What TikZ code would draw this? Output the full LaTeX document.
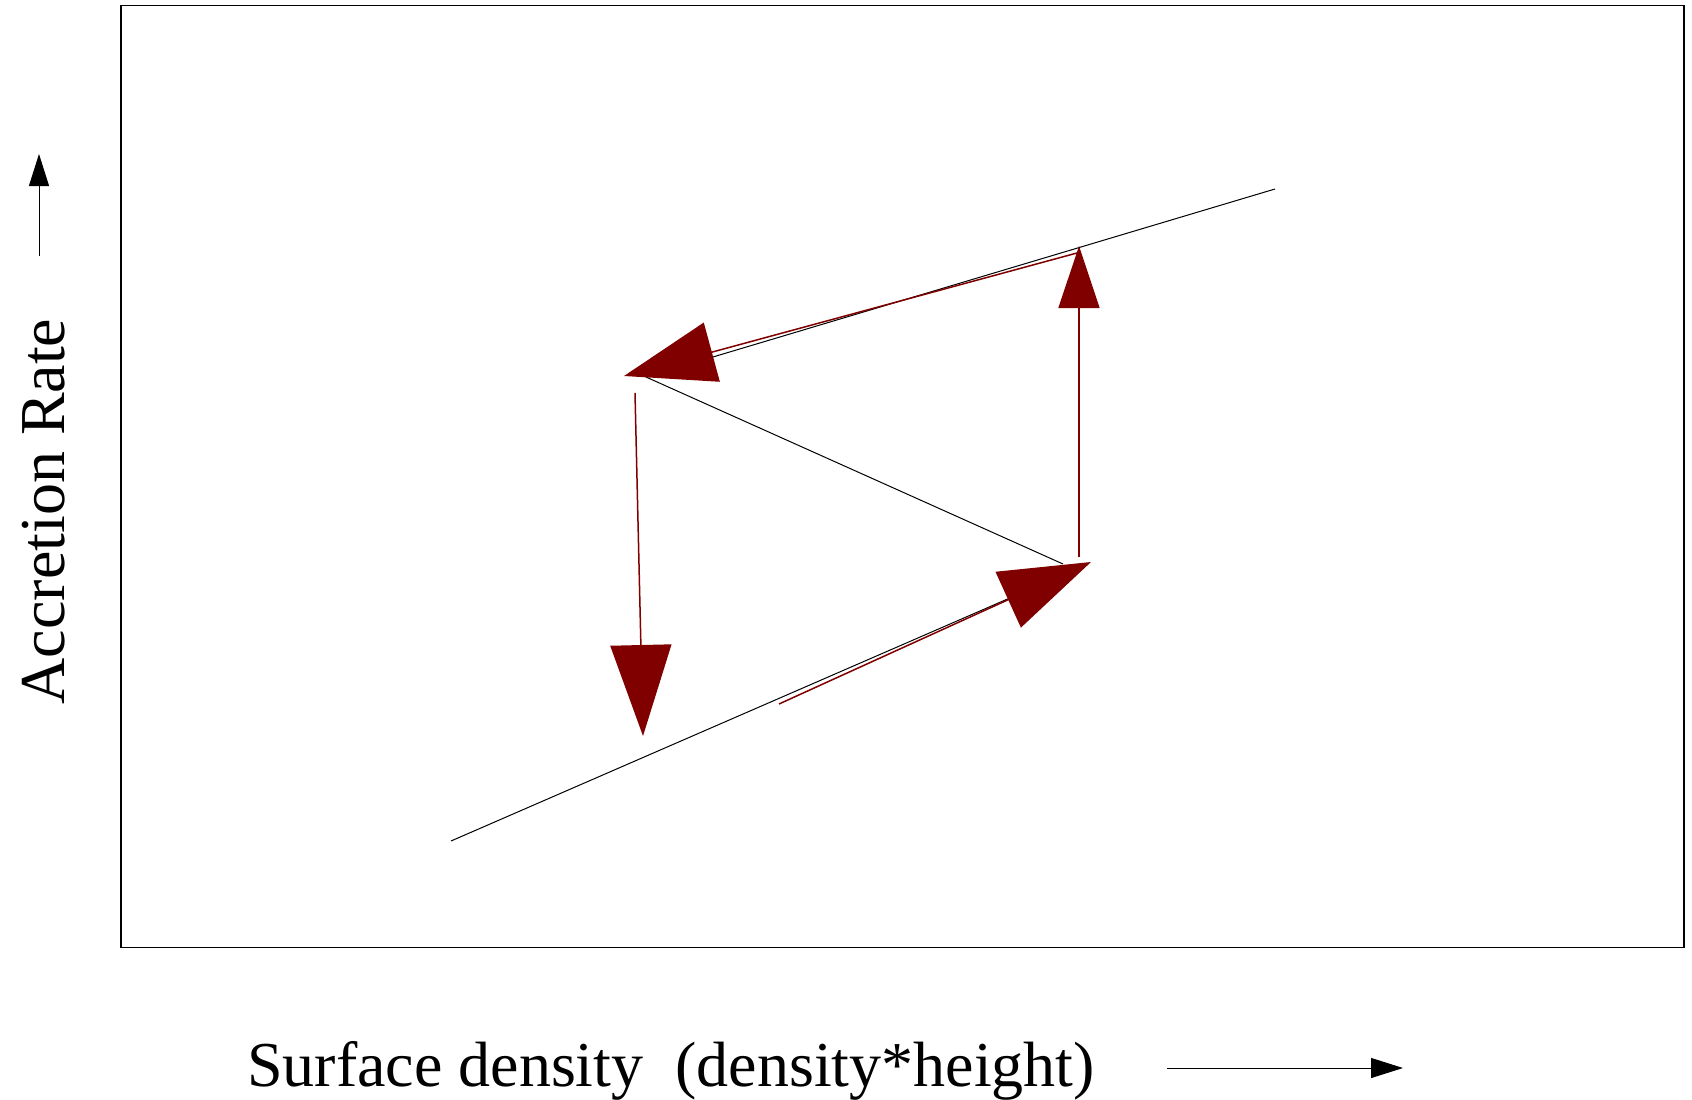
\documentclass[tikz,border=0pt]{standalone}
\usepackage{fontspec}
\setmainfont{Liberation Serif}
\usetikzlibrary{arrows.meta}
\definecolor{darkred}{HTML}{800000}
\begin{document}
\begin{tikzpicture}[x=1pt,y=-1pt,
  curve/.style={black,line width=1pt},
  flow/.style={darkred,line width=1.5pt,-{Triangle[length=91pt,width=61pt]}},
  flowsmall/.style={darkred,line width=1.5pt,-{Triangle[length=62pt,width=41pt]}},
  axisarrow/.style={black,line width=1pt,-{Triangle[length=32pt,width=20pt]}},
  label/.style={font=\fontsize{64}{77}\selectfont,inner sep=0pt}]
\useasboundingbox (0,0) rectangle (1692,1100);
% frame
\draw[line width=1.5pt] (121,5.5) rectangle (1684,947.5);
% S-curve points
\coordinate (A) at (451,841);
\coordinate (Blow) at (1088,564);
\coordinate (Bmid) at (1063,564);
\coordinate (C) at (646,377);
\coordinate (D) at (1275,189);
\draw[curve] (A) -- (Blow);
\draw[curve] (Bmid) -- (C);
\draw[curve] (C) -- (D);
% flow arrows
\coordinate (f1s) at (1077,253); \coordinate (f1e) at (624,376);
\coordinate (f2s) at (1079,557); \coordinate (f2e) at (1079,246);
\coordinate (f3s) at (635,393);  \coordinate (f3e) at (643,736);
\coordinate (f4s) at (779,704);  \coordinate (f4e) at (1091,562);
\draw[flow] (f1s) -- (f1e);
\draw[flowsmall] (f2s) -- (f2e);
\draw[flow] (f3s) -- (f3e);
\draw[flow] (f4s) -- (f4e);
% axis labels
\node[label,rotate=90,anchor=base] (ylab) at (64.5,511.5) {Accretion Rate};
\node[label,anchor=base west] (xlab) at (247,1086) {Surface density\ \ (density*height)};
\coordinate (ya1) at (39,256); \coordinate (ya2) at (39,154);
\coordinate (xa1) at (1167,1068); \coordinate (xa2) at (1403,1068);
\draw[axisarrow] (ya1) -- (ya2);
\draw[axisarrow] (xa1) -- (xa2);
\end{tikzpicture}
\end{document}
